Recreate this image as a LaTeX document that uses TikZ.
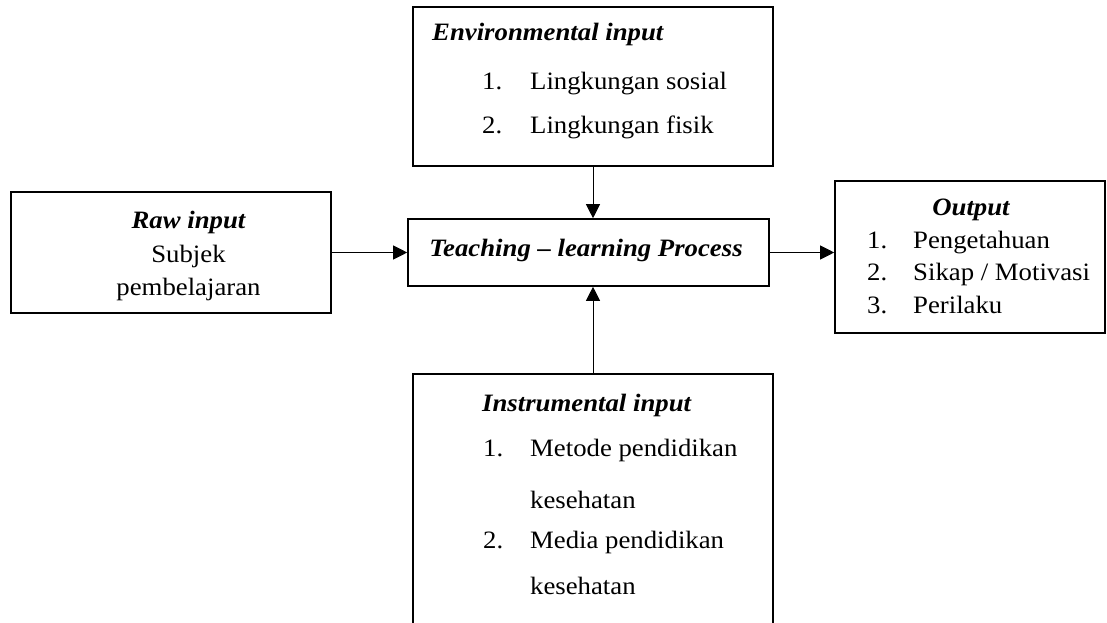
\documentclass[tikz,border=0pt]{standalone}
\usepackage{fontspec}
\setmainfont{Liberation Serif}[FakeStretch=1.07]
\usetikzlibrary{arrows.meta}

\begin{document}
\begin{tikzpicture}[x=1pt, y=-1pt,
        box/.style={rectangle, draw, line width=1.6pt, inner sep=0pt},
        txt/.style={inner sep=0pt, anchor=base west, font=\fontsize{25}{30}\selectfont},
        ctxt/.style={inner sep=0pt, anchor=base, font=\fontsize{25}{30}\selectfont},
        head/.style={font=\fontsize{25}{30}\selectfont\bfseries\itshape},
        line/.style={draw, line width=1pt, -{Triangle[length=14pt, width=14pt]}}
    ]
        \clip (0,0) rectangle (1107,623);

        % Kotak
        \node[box, minimum width=360pt, minimum height=159pt] (env) at (593, 86.5) {};
        \node[box, minimum width=320pt, minimum height=121pt] (raw) at (171, 252.5) {};
        \node[box, minimum width=361pt, minimum height=67pt] (proc) at (588.5, 252.5) {};
        \node[box, minimum width=270pt, minimum height=152pt] (out) at (970, 257) {};
        \node[box, minimum width=360pt, minimum height=300pt] (instr) at (593, 524) {};

        % Environmental input
        \node[txt, head] (envh) at (432, 40.5) {Environmental input};
        \node[txt] (env1) at (482, 90) {1.};
        \node[txt] (env1t) at (530, 90) {Lingkungan sosial};
        \node[txt] (env2) at (482, 133) {2.};
        \node[txt] (env2t) at (530, 133) {Lingkungan fisik};

        % Raw input
        \node[ctxt, head] (rawh) at (188.5, 228) {Raw input};
        \node[ctxt] (raw1) at (188.5, 262) {Subjek};
        \node[ctxt] (raw2) at (188.5, 295) {pembelajaran};

        % Proses
        \node[ctxt, head] (proch) at (586, 256) {Teaching -- learning Process};

        % Output
        \node[ctxt, head] (outh) at (971, 215) {Output};
        \node[txt] (out1) at (867, 248) {1.};
        \node[txt] (out1t) at (913, 248) {Pengetahuan};
        \node[txt] (out2) at (867, 280.5) {2.};
        \node[txt] (out2t) at (913, 280.5) {Sikap / Motivasi};
        \node[txt] (out3) at (867, 313) {3.};
        \node[txt] (out3t) at (913, 313) {Perilaku};

        % Instrumental input
        \node[txt, head] (instrh) at (482, 411) {Instrumental input};
        \node[txt] (instr1) at (483, 456) {1.};
        \node[txt] (instr1t) at (530, 456) {Metode pendidikan};
        \node[txt] (instr1u) at (530, 508) {kesehatan};
        \node[txt] (instr2) at (483, 548) {2.};
        \node[txt] (instr2t) at (530, 548) {Media pendidikan};
        \node[txt] (instr2u) at (530, 594) {kesehatan};

        \draw[line] (env.south) -- (env.south |- proc.north);
        \draw[line] (instr.north) -- (instr.north |- proc.south);
        \draw[line] (raw.east) -- (proc.west);
        \draw[line] (proc.east) -- (proc.east -| out.west);
    \end{tikzpicture}
\end{document}
